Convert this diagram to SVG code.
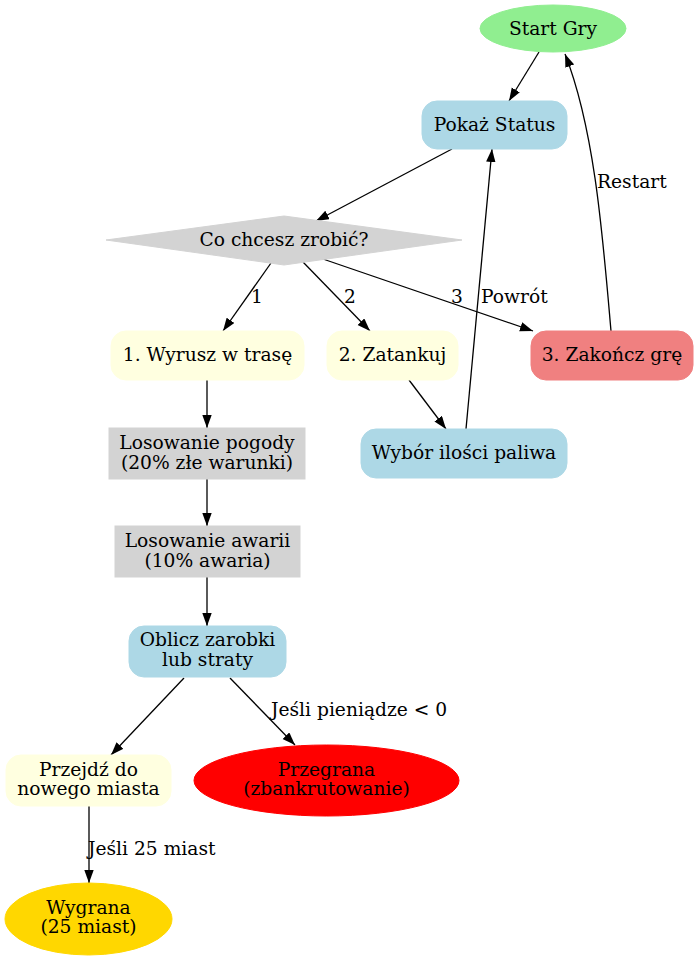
<svg xmlns="http://www.w3.org/2000/svg" width="699" height="960" viewBox="0 0 699 960">
<style>
text{font-family:"DejaVu Serif","Liberation Serif",serif;font-size:18.67px;fill:#000;text-anchor:middle}
.el{text-anchor:start}
.e{stroke:#000;stroke-width:1.3;fill:none;marker-end:url(#ah)}
</style>
<defs>
<marker id="ah" markerUnits="userSpaceOnUse" markerWidth="14" markerHeight="10" refX="13" refY="4.7" orient="auto">
<path d="M0,0L13,4.7L0,9.4z" fill="#000"/>
</marker>
</defs>
<rect width="699" height="960" fill="#fff"/>
<g id="edges">
<path class="e" d="M539,52L509,101"/>
<path class="e" d="M452,149L316,221"/>
<path class="e" d="M271,263L223,331"/>
<path class="e" d="M303,262L370,331"/>
<path class="e" d="M320,258L533,331"/>
<path class="e" d="M409,380L446,429"/>
<path class="e" d="M466,429L492,149"/>
<path class="e" d="M611,331C603,240 595,130 565,54"/>
<path class="e" d="M207,380L207,428"/>
<path class="e" d="M207,479L207,526"/>
<path class="e" d="M207,577L207,626"/>
<path class="e" d="M184,678L111,755"/>
<path class="e" d="M230,678L295,745"/>
<path class="e" d="M89,806L89,883"/>
<text class="el" x="251" y="303">1</text>
<text class="el" x="344" y="303">2</text>
<text class="el" x="451" y="303">3</text>
<text class="el" x="481" y="303">Powrót</text>
<text class="el" x="597" y="188">Restart</text>
<text class="el" x="271" y="716">Jeśli pieniądze &lt; 0</text>
<text class="el" x="88" y="855">Jeśli 25 miast</text>
</g>
<g id="start"><ellipse cx="553" cy="28.5" rx="73" ry="23.5" fill="#90ee90" stroke="#90ee90"/><text x="553" y="34.5">Start Gry</text></g>
<g id="status"><rect x="422" y="101" width="145" height="48" rx="15" fill="#add8e6" stroke="#add8e6"/><text x="494.5" y="131">Pokaż Status</text></g>
<g id="wybor"><polygon points="106,240 284,216 462,240 284,265" fill="#d3d3d3" stroke="#d3d3d3"/><text x="284" y="246">Co chcesz zrobić?</text></g>
<g id="wyrusz"><rect x="111" y="331" width="193" height="49" rx="15" fill="#ffffe0" stroke="#ffffe0"/><text x="207.5" y="361">1. Wyrusz w trasę</text></g>
<g id="zatankuj"><rect x="327" y="331" width="131" height="49" rx="15" fill="#ffffe0" stroke="#ffffe0"/><text x="392.5" y="361">2. Zatankuj</text></g>
<g id="zakoncz"><rect x="531" y="331" width="162" height="49" rx="15" fill="#f08080" stroke="#f08080"/><text x="612" y="361">3. Zakończ grę</text></g>
<g id="paliwo"><rect x="361" y="429" width="206" height="49" rx="15" fill="#add8e6" stroke="#add8e6"/><text x="464" y="459">Wybór ilości paliwa</text></g>
<g id="pogoda"><rect x="109" y="428" width="196" height="51" fill="#d3d3d3" stroke="#d3d3d3"/><text x="207" y="449">Losowanie pogody</text><text x="207" y="469">(20% złe warunki)</text></g>
<g id="awaria"><rect x="115" y="526" width="185" height="51" fill="#d3d3d3" stroke="#d3d3d3"/><text x="207.5" y="547">Losowanie awarii</text><text x="207.5" y="567">(10% awaria)</text></g>
<g id="oblicz"><rect x="129" y="626" width="157" height="51" rx="15" fill="#add8e6" stroke="#add8e6"/><text x="207.5" y="646">Oblicz zarobki</text><text x="207.5" y="666">lub straty</text></g>
<g id="przejdz"><rect x="6" y="755" width="165" height="51" rx="15" fill="#ffffe0" stroke="#ffffe0"/><text x="88.5" y="776">Przejdź do</text><text x="88.5" y="795">nowego miasta</text></g>
<g id="przegrana"><ellipse cx="326.5" cy="780.5" rx="132.5" ry="35.5" fill="#ff0000" stroke="#ff0000"/><text x="326.5" y="776">Przegrana</text><text x="326.5" y="795">(zbankrutowanie)</text></g>
<g id="wygrana"><ellipse cx="88.5" cy="919" rx="83.5" ry="36" fill="#ffd700" stroke="#ffd700"/><text x="88.5" y="914">Wygrana</text><text x="88.5" y="933">(25 miast)</text></g>
</svg>
